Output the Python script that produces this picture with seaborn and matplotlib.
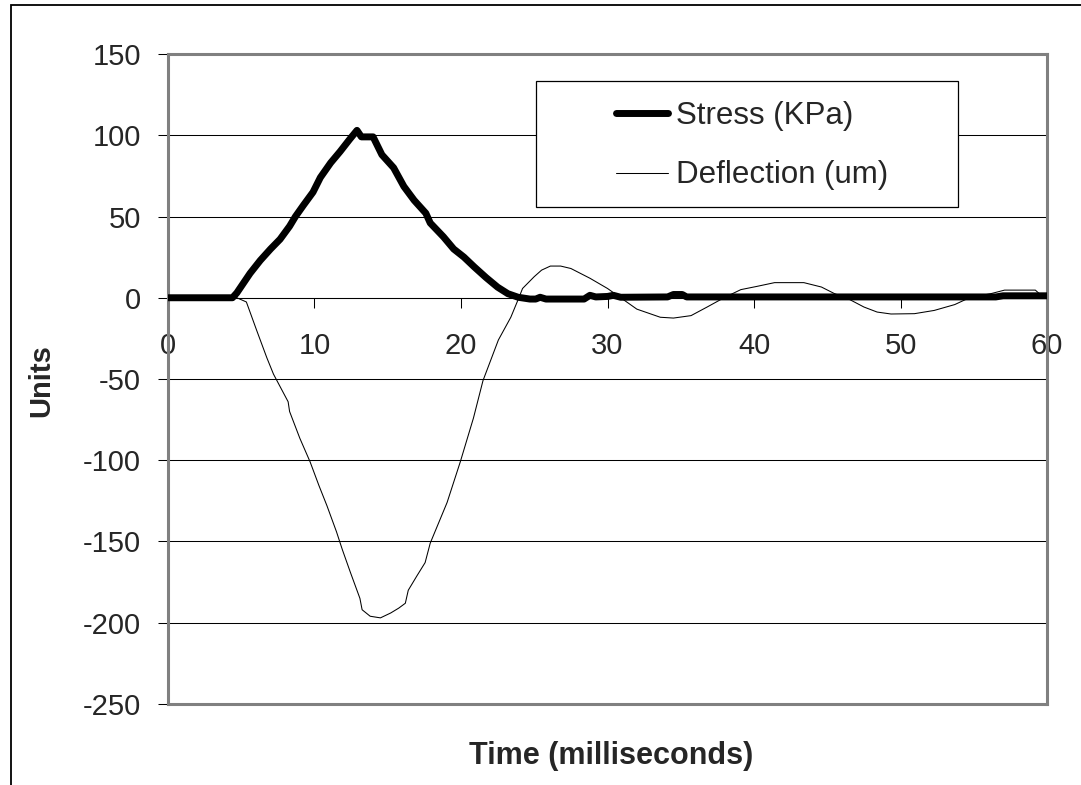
"""
Stress and deflection pulse over time (Excel style line chart)
"""

import numpy as np
import pandas as pd
import matplotlib
matplotlib.use('Agg')
import matplotlib.pyplot as plt
import matplotlib.patches as mpatches
import seaborn as sns

sns.set_style("white")
plt.rcParams['font.family'] = ['Liberation Sans', 'DejaVu Sans']
plt.rcParams['axes.unicode_minus'] = False

# Stress (KPa) readings
stress_time = [0, 4.4, 4.7, 5.6, 6.3, 7.0, 7.65, 8.3, 8.7, 9.25, 9.9, 10.4, 11.1,
               11.75, 12.4, 12.9, 13.2, 14.0, 14.6, 15.4, 16.1, 16.8, 17.6, 17.9,
               18.8, 19.5, 20.2, 20.9, 21.7, 22.5, 23.2, 23.9, 24.7, 25.1, 25.4,
               25.8, 26.1, 28.4, 28.8, 29.2, 30.0, 30.4, 30.9, 34.1, 34.5, 35.1,
               35.4, 56.5, 57.0, 60]
stress_kpa = [0, 0, 3, 15, 23, 30, 36, 44, 50, 57, 65, 74, 83,
              90, 97.5, 103, 99, 99, 88, 80, 68.5, 60, 52, 46,
              37.5, 30, 25, 19, 12.5, 6.5, 2.5, 0.3, -0.8, -0.8, 0.3,
              -0.8, -0.8, -0.8, 1.5, 0.5, 0.8, 1.5, 0.3, 0.5, 2, 2,
              0.5, 0.5, 1.2, 1.2]

# Deflection (um) readings
defl_time = [0, 4.7, 5.35, 6.05, 6.75, 7.2, 8.2, 8.3, 9.0, 9.7, 10.3, 10.85, 11.5,
             11.9, 12.45, 13.1, 13.25, 13.8, 14.5, 15.2, 15.75, 16.2, 16.4, 17.0,
             17.55, 17.9, 19.05, 19.95, 20.85, 21.5, 22.55, 23.4, 23.95, 24.2,
             25.0, 25.5, 26.1, 26.8, 27.5, 28.8, 30.0, 30.9, 32.0, 33.6, 34.5,
             35.7, 36.8, 37.95, 39.1, 40.2, 41.4, 43.4, 44.6, 45.5, 46.4, 47.5,
             48.4, 49.35, 50.95, 52.3, 53.7, 54.7, 56.2, 57.1, 59.2, 59.6, 60]
defl_um = [0, 0, -2.6, -20, -37, -47, -64, -70, -86.5, -101, -115.5, -128, -144,
           -155, -169, -185, -192, -196, -197, -194, -191, -188, -180, -171,
           -163, -151, -126, -101, -74, -51, -26, -12, 0, 5.7,
           13, 17, 19.5, 19.5, 18, 12, 5.7, 0, -7, -12, -12.5,
           -11, -5.7, 0, 5, 7, 9.3, 9.3, 6.6, 2.5, -0.5, -5.7,
           -8.8, -10, -9.8, -7.8, -4.2, 0, 2.6, 4.7, 4.7, 1.5, 0]

x_ticks = [0, 10, 20, 30, 40, 50, 60]
y_ticks = [-250, -200, -150, -100, -50, 0, 50, 100, 150]

FS = 21
GRAY = '#808080'

fig = plt.figure(figsize=(10.81, 7.85), dpi=100)
ax = fig.add_axes([0.1554, 0.1032, 0.8132, 0.828])

# outer chart frame (only top and left edges visible)
fig.patches.append(mpatches.Rectangle((0.0102, -0.05), 1.1, 0.9936 + 0.05,
                                      transform=fig.transFigure, fill=False,
                                      edgecolor='black', linewidth=1.3))

sns.lineplot(x=stress_time, y=stress_kpa, ax=ax, color='black', linewidth=5,
             sort=False, estimator=None, label='Stress (KPa)', zorder=4)
sns.lineplot(x=defl_time, y=defl_um, ax=ax, color='black', linewidth=0.75,
             sort=False, estimator=None, label='Deflection (um)', zorder=3)

ax.set_xlim(0, 60)
ax.set_ylim(-250, 150)
ax.set_yticks(y_ticks)
ax.yaxis.grid(True, color='black', linewidth=0.75)
ax.xaxis.grid(False)
ax.set_axisbelow(True)

for side in ['left', 'right', 'top', 'bottom']:
    ax.spines[side].set_visible(True)
    ax.spines[side].set_color(GRAY)
    ax.spines[side].set_linewidth(2.2)

ax.tick_params(axis='y', direction='out', length=7.5, width=0.75, color='black',
               labelsize=FS, pad=12, left=True)
ax.tick_params(axis='x', bottom=False, labelbottom=False)

# category axis crossing at y = 0
sec = ax.secondary_xaxis(250 / 400)
sec.set_xticks(x_ticks)
sec.xaxis.set_ticks_position('bottom')
sec.xaxis.set_label_position('bottom')
for side in ['top', 'bottom']:
    sec.spines[side].set_color('black')
    sec.spines[side].set_linewidth(0.75)
sec.tick_params(axis='x', which='both', direction='out', length=7.5, width=0.75,
                color='black', labelsize=FS, pad=17,
                bottom=True, labelbottom=True, top=False, labeltop=False)

ax.set_xlabel('Time (milliseconds)', fontsize=22, fontweight='bold', va='center')
ax.xaxis.set_label_coords(0.504, -0.080)
ax.set_ylabel('Units', fontsize=FS, fontweight='bold', va='center')
ax.yaxis.set_label_coords(-0.1437, 0.498)

# legend box
ax.add_patch(mpatches.Rectangle((0.4187, 0.765), 0.480, 0.1935, transform=ax.transAxes,
                                facecolor='white', edgecolor='black', linewidth=0.9,
                                zorder=5))
leg = ax.legend(loc='center left', bbox_to_anchor=(0.5097, 0.859), frameon=False,
                fontsize=22.5, handlelength=1.65, handletextpad=0.26,
                labelspacing=0.95, borderpad=0, borderaxespad=0)
leg.set_zorder(6)

fig.savefig('out.png', dpi=100)
